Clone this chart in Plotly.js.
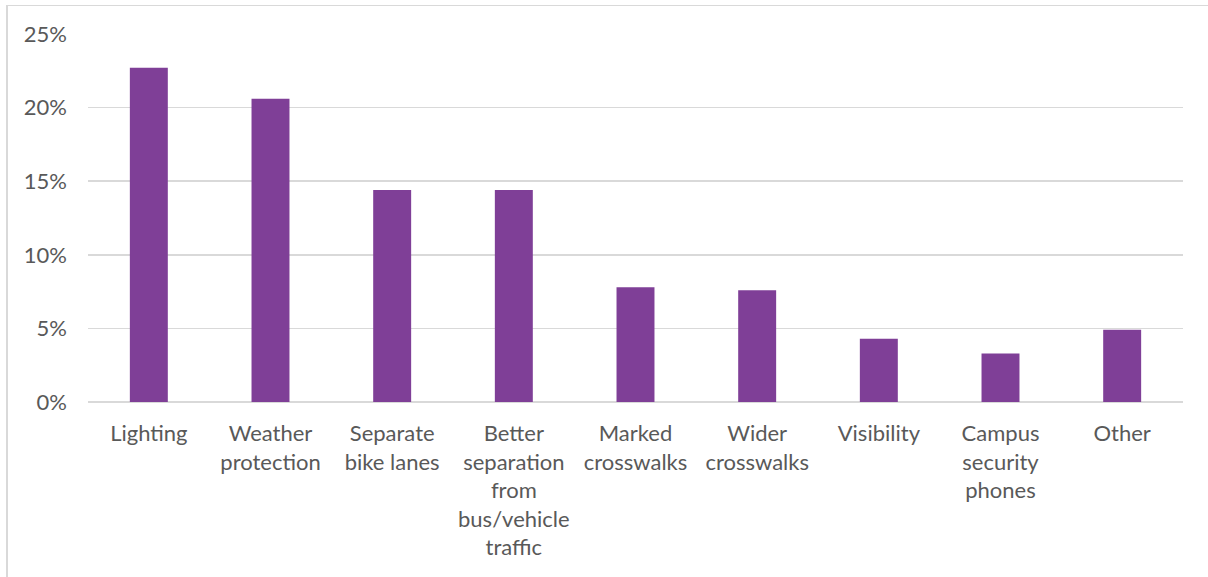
<!DOCTYPE html>
<html>
<head>
<meta charset="utf-8">
<script src="https://cdn.plot.ly/plotly-3.0.1.min.js"></script>
<style>
  html, body { margin: 0; padding: 0; background: #fff; }
  #wrap { position: relative; width: 1208px; height: 577px; overflow: hidden; }
  #chart { position: absolute; left: 0; top: 0; width: 1208px; height: 577px; }
  #frame { position: absolute; left: 6px; top: 5px; width: 1300px; height: 700px;
           border-top: 1px solid #d9d9d9; border-left: 2px solid #d9d9d9; pointer-events: none; }
</style>
</head>
<body>
<div id="wrap">
  <div id="chart"></div>
  <div id="frame"></div>
</div>
<script>
const categories = [
  "Lighting",
  "Weather<br>protection",
  "Separate<br>bike lanes",
  "Better<br>separation<br>from<br>bus/vehicle<br>traffic",
  "Marked<br>crosswalks",
  "Wider<br>crosswalks",
  "Visibility",
  "Campus<br>security<br>phones",
  "Other"
];
const percentages = [22.7, 20.6, 14.4, 14.4, 7.8, 7.6, 4.3, 3.3, 4.9];
const yTickValues = [0, 5, 10, 15, 20, 25];

const trace = {
  type: 'bar',
  x: categories,
  y: percentages,
  marker: { color: '#7f3f97', line: { width: 0 } },
  hoverinfo: 'x+y'
};

const font = { family: 'Lato, "Open Sans", sans-serif', size: 22, color: '#595959' };

const layout = {
  width: 1208,
  height: 577,
  margin: { l: 88, r: 25, t: 34, b: 175, pad: 0 },
  paper_bgcolor: 'rgba(0,0,0,0)',
  plot_bgcolor: 'rgba(0,0,0,0)',
  showlegend: false,
  bargap: 0.688,
  font: font,
  xaxis: {
    type: 'category',
    showgrid: false,
    showline: false,
    zeroline: false,
    ticks: '',
    ticklabelstandoff: 16,
    tickfont: font,
    automargin: false
  },
  yaxis: {
    range: [0, 25],
    tickvals: yTickValues,
    ticktext: yTickValues.map(v => v + '%'),
    showgrid: true,
    gridcolor: '#d9d9d9',
    gridwidth: 1.5,
    zeroline: true,
    zerolinecolor: '#d9d9d9',
    zerolinewidth: 1.5,
    showline: false,
    ticks: '',
    ticklabelstandoff: 20,
    tickfont: font,
    automargin: false
  }
};

Plotly.newPlot('chart', [trace], layout, { displayModeBar: false, staticPlot: true });
</script>
</body>
</html>
